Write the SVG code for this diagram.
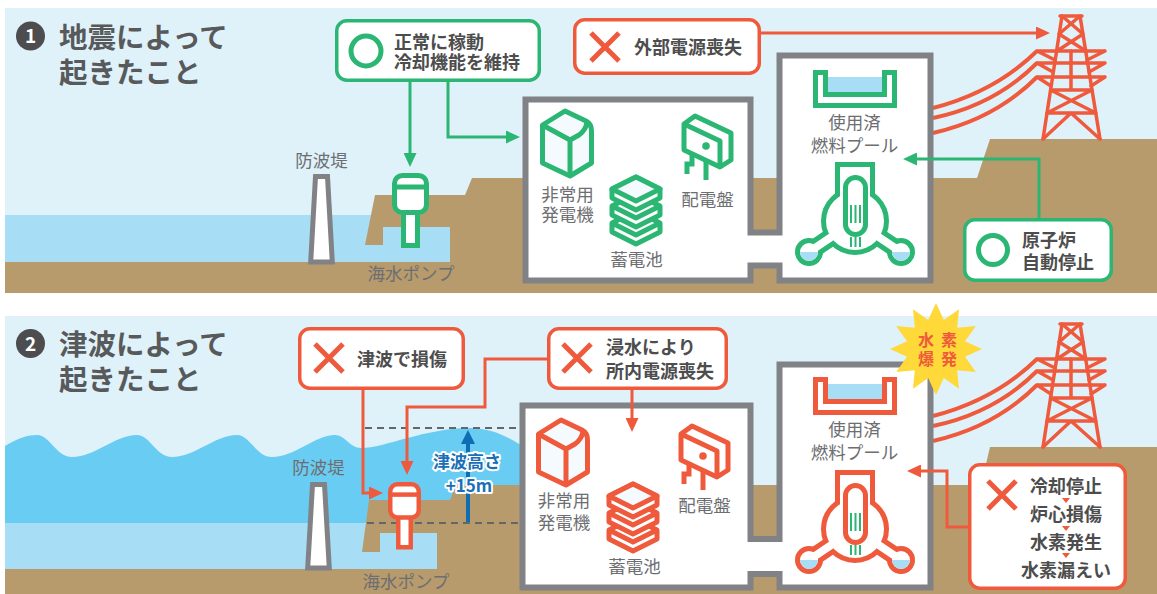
<svg xmlns="http://www.w3.org/2000/svg" width="1157" height="594" viewBox="0 0 1157 594">
<style>
  .sky{fill:#dff2fa}
  .sea{fill:#a8ddf6}
  .tsu{fill:#69ccf3}
  .gnd{fill:#b89b6c}
  .wall{fill:#fff;stroke:#808285;stroke-width:6;stroke-linejoin:miter}
  .dike{fill:#fff;stroke:#808285;stroke-width:5;stroke-linejoin:miter}
  .ttl{font-family:"Noto Sans CJK JP",sans-serif;font-weight:700;font-size:28.5px;fill:#58595b}
  .num{font-family:"Noto Sans CJK JP",sans-serif;font-weight:700;font-size:19px;fill:#fff;text-anchor:middle}
  .lbl{font-family:"Noto Sans CJK JP",sans-serif;font-size:17.5px;fill:#6d6e71;text-anchor:middle}
  .btx{font-family:"Noto Sans CJK JP",sans-serif;font-weight:700;font-size:18px;fill:#4d4d4d}
  .mid{text-anchor:middle}
  .box-g{fill:#fff;stroke:#2cb673;stroke-width:3.5}
  .box-o{fill:#fff;stroke:#ef5a3c;stroke-width:3.5}
  .cg{fill:none;stroke:#2cb673;stroke-width:3}
  .co{fill:none;stroke:#ef5a3c;stroke-width:3}
  .ok{fill:none;stroke:#2cb673;stroke-width:5}
  .ng{fill:none;stroke:#ef5a3c;stroke-width:5}
  .dash{fill:none;stroke:#666;stroke-width:1.8;stroke-dasharray:7 5}
  .cable{fill:none;stroke:#ef5a3c;stroke-width:4}
  .g{color:#2cb673}
  .o{color:#ef5a3c}
</style>
<defs>
  <marker id="mg" viewBox="0 0 14 13" refX="7" refY="6.5" markerWidth="14" markerHeight="13" markerUnits="userSpaceOnUse" orient="auto"><path d="M0,0 L14,6.5 L0,13 Z" fill="#2cb673"/></marker>
  <marker id="mo" viewBox="0 0 14 13" refX="7" refY="6.5" markerWidth="14" markerHeight="13" markerUnits="userSpaceOnUse" orient="auto"><path d="M0,0 L14,6.5 L0,13 Z" fill="#ef5a3c"/></marker>
  <marker id="mb" viewBox="0 0 14 14" refX="7" refY="7" markerWidth="14" markerHeight="14" markerUnits="userSpaceOnUse" orient="auto"><path d="M0,0 L14,7 L0,14 Z" fill="#0e6db3"/></marker>

  <!-- emergency generator -->
  <g id="gen" fill="none" stroke="currentColor" stroke-width="5" stroke-linejoin="round">
    <path d="M542.5,125 L565,111 L586,121 Q591.5,124 591.5,131 V163 L570,176 L542.5,163 Z" fill="#f4fafd"/>
    <path d="M542.5,125 L570,140 V176 M570,140 L579,135 Q586,130 587,122"/>
  </g>

  <!-- battery stack -->
  <g id="bat" stroke="currentColor" stroke-width="5" stroke-linejoin="round">
    <path d="M612,223 L636,211 L660,223 V232 L636,244 L612,232 Z" fill="#fff"/>
    <path d="M612,223 L636,235 L660,223" fill="none"/>
    <path d="M612,206 L636,194 L660,206 V215 L636,227 L612,215 Z" fill="#fff"/>
    <path d="M612,206 L636,218 L660,206" fill="none"/>
    <path d="M612,189 L636,177 L660,189 V198 L636,210 L612,198 Z" fill="#fff"/>
    <path d="M612,189 L636,177 L660,189 L636,201 Z" fill="#f4fafd"/>
  </g>

  <!-- switchboard -->
  <g id="swb" fill="none" stroke="currentColor" stroke-width="5" stroke-linejoin="round">
    <path d="M684,124 L695,116 L731,133 V160 L720,167 L684,150 Z" fill="#fff"/>
    <path d="M684,124 L720,141 V167"/>
    <circle cx="706" cy="146" r="3.8" fill="currentColor" stroke="none"/>
    <path d="M692,155 V164 H687 V174 M706,161 V180" stroke-linejoin="miter"/>
  </g>

  <!-- seawater pump -->
  <g id="pump" fill="#fff" stroke="currentColor" stroke-width="5">
    <rect x="403.5" y="210" width="14" height="35.5"/>
    <rect x="394.5" y="175.5" width="32" height="37" rx="8"/>
    <path d="M394.5,187 H426.5" fill="none"/>
  </g>

  <!-- spent fuel pool -->
  <g id="pool">
    <rect x="828" y="77" width="54" height="15" fill="#a8ddf6"/>
    <path d="M815.5,72.5 H825.5 V94.5 H884.5 V72.5 H894.5 V105.5 H815.5 Z" fill="none" stroke="currentColor" stroke-width="5"/>
  </g>

  <!-- reactor vessel -->
  <g id="rx">
    <g fill="currentColor" stroke="currentColor" stroke-width="10">
      <rect x="840" y="167" width="30" height="35"/>
      <circle cx="855" cy="221" r="29"/>
      <circle cx="809" cy="252" r="9"/>
      <circle cx="901" cy="252" r="9"/>
    </g>
    <path d="M809,252 L855,221 L901,252" fill="none" stroke="currentColor" stroke-width="18"/>
    <g fill="#fff">
      <rect x="840" y="167" width="30" height="35"/>
      <circle cx="855" cy="221" r="29"/>
      <circle cx="809" cy="252" r="9"/>
      <circle cx="901" cy="252" r="9"/>
    </g>
    <path d="M809,252 L855,221 L901,252" fill="none" stroke="#fff" stroke-width="8"/>
    <path d="M800,252 A9,9 0 0 0 818,252 Z M892,252 A9,9 0 0 0 910,252 Z" fill="#a8ddf6"/>
    <rect x="845.5" y="177.5" width="20" height="57" rx="10" fill="#fff" stroke="currentColor" stroke-width="5"/>
    <path d="M851,205 V223 M855.5,205 V223 M860,205 V223 M851,237 V247 M855.5,237 V247 M860,237 V247" stroke="#2cb673" stroke-width="2"/>
  </g>

  <!-- transmission tower -->
  <g id="tw" fill="none" stroke="#ef5a3c" stroke-width="3.5" stroke-linejoin="round" stroke-linecap="round">
    <path d="M1060,16 H1082 M1062,16 L1043,139 M1080,16 L1100,139"/>
    <path d="M1062,16 L1083,34 M1080,16 L1059,34 M1059,34 L1086,51 M1083,34 L1057,51"/>
    <path d="M1037,51 H1105 M1037,51 L1055,60 M1105,51 L1087,60"/>
    <path d="M1037,63 H1105 M1037,63 L1053,72 M1105,63 L1089,72"/>
    <path d="M1037,77 H1105 M1037,77 L1051,86 M1105,77 L1091,86"/>
    <path d="M1071,51 V90 M1050.6,90 H1092 M1050.6,90 L1095.8,113 M1092,90 L1047,113 M1047,113 H1095.8 M1071,113 L1043,139 M1071,113 L1100,139"/>
  </g>

  <!-- overhead lines -->
  <g id="cables">
    <path class="cable" d="M933,108 Q995,92 1037,51"/>
    <path class="cable" d="M933,118 Q995,105 1037,63"/>
    <path class="cable" d="M933,133 Q995,119 1037,77"/>
  </g>
</defs>

<!-- ===== backgrounds ===== -->
<g id="scene1">
  <rect class="sky" x="5" y="8" width="1152" height="285"/>
  <rect class="sea" x="5" y="215" width="400" height="47"/>
  <rect class="gnd" x="5" y="262" width="1152" height="31"/>
  <path class="gnd" d="M365,245 L375,195 L465,195 L472,178 L977,178 L990,139 L1157,139 L1157,262 L383,262 L383,245 Z"/>
  <rect class="sea" x="383" y="227" width="67" height="35"/>
</g>
<g id="scene2">
  <rect class="sky" x="5" y="316" width="1152" height="278"/>
  <path class="tsu" d="M5,523 V446 C18,438 28,435 37,435 C50,435 56,457 72,457 C95,457 115,435 137,435 C150,435 156,457 172,457 C195,457 215,435 237,435 C250,435 256,457 272,457 C295,457 315,435 335,435 C345,435 350,448 361,448 C385,448 425,428 470,428 C495,428 512,440 526,448 V523 Z"/>
  <rect class="sea" x="5" y="523" width="400" height="46"/>
  <rect class="gnd" x="5" y="569" width="1152" height="25"/>
  <path class="gnd" d="M362,552 L369,500 L450,500 L456,485 L981,485 L990,447 L1157,447 L1157,569 L380,569 L380,552 Z"/>
  <rect class="sea" x="380" y="533" width="57" height="36"/>
</g>

<!-- ===== titles ===== -->
<g id="title1">
  <circle cx="30.5" cy="36" r="14.5" fill="#4d4d4f"/>
  <text class="num" x="30.5" y="43">1</text>
  <text class="ttl" x="59" y="48">地震によって</text>
  <text class="ttl" x="59" y="83">起きたこと</text>
</g>
<g id="title2">
  <circle cx="30.5" cy="343.5" r="14.5" fill="#4d4d4f"/>
  <text class="num" x="30.5" y="350.5">2</text>
  <text class="ttl" x="59" y="355">津波によって</text>
  <text class="ttl" x="59" y="390">起きたこと</text>
</g>

<!-- ===== breakwaters ===== -->
<g id="breakwater1">
  <path class="dike" d="M315.5,176.5 H327.5 L332.3,262 H310.7 Z"/>
  <text class="lbl" x="321.5" y="166.5">防波堤</text>
</g>
<g id="breakwater2">
  <path class="dike" d="M312.5,484.5 H324.5 L329.3,568 H307.7 Z"/>
  <text class="lbl" x="318.5" y="473.5">防波堤</text>
</g>

<!-- ===== overhead lines and towers ===== -->
<g id="cables1"><use href="#cables"/></g>
<g id="tower1"><use href="#tw"/></g>
<g id="cables2"><use href="#cables" transform="translate(0,308)"/></g>
<g id="tower2"><use href="#tw" transform="translate(0,308)"/></g>

<!-- ===== buildings ===== -->
<g id="building1">
  <path class="wall" d="M525.5,99.5 H750.5 V232.5 H779.5 V55.5 H930.5 V280.5 H779.5 V265.5 H750.5 V280.5 H525.5 Z"/>
</g>
<g id="building2">
  <path class="wall" d="M522.5,405.5 H750.5 V539 H779.5 V364.5 H930.5 V587.5 H779.5 V574 H750.5 V587.5 H522.5 Z"/>
</g>

<!-- ===== equipment, panel 1 ===== -->
<g id="generator1" class="g">
  <use href="#gen"/>
  <text class="lbl" x="567.5" y="200.5">非常用</text>
  <text class="lbl" x="567.5" y="220.5">発電機</text>
</g>
<g id="battery1" class="g">
  <use href="#bat"/>
  <text class="lbl" x="636.5" y="265.5">蓄電池</text>
</g>
<g id="switchboard1" class="g">
  <use href="#swb"/>
  <text class="lbl" x="707.5" y="205.5">配電盤</text>
</g>
<g id="pool1" class="g">
  <use href="#pool"/>
  <text class="lbl" x="854.5" y="128.5">使用済</text>
  <text class="lbl" x="854.5" y="151.5">燃料プール</text>
</g>
<g id="reactor1" class="g"><use href="#rx"/></g>
<g id="pump1" class="g">
  <use href="#pump"/>
  <text class="lbl" x="411" y="280">海水ポンプ</text>
</g>

<!-- ===== equipment, panel 2 ===== -->
<g id="generator2" class="o">
  <use href="#gen" transform="translate(-4,309)"/>
  <text class="lbl" x="564" y="506.5">非常用</text>
  <text class="lbl" x="564" y="528.5">発電機</text>
</g>
<g id="battery2" class="o">
  <use href="#bat" transform="translate(-3,307)"/>
  <text class="lbl" x="634.5" y="573">蓄電池</text>
</g>
<g id="switchboard2" class="o">
  <use href="#swb" transform="translate(-3,310)"/>
  <text class="lbl" x="704.5" y="511.5">配電盤</text>
</g>
<g id="pool2" class="o">
  <use href="#pool" transform="translate(0,307)"/>
  <text class="lbl" x="854.5" y="436">使用済</text>
  <text class="lbl" x="854.5" y="458.5">燃料プール</text>
</g>
<g id="reactor2" class="o"><use href="#rx" transform="translate(0,308)"/></g>

<!-- tsunami height marker -->
<g id="wave-height">
  <path class="dash" d="M365,428 H520 M367,523 H520"/>
  <path d="M468,522 V437" fill="none" stroke="#0e6db3" stroke-width="4" marker-end="url(#mb)"/>
  <g font-family="'Noto Sans CJK JP',sans-serif" font-weight="700" font-size="17" fill="#1a70b6" stroke="#fff" stroke-width="4" stroke-linejoin="round" style="paint-order:stroke" text-anchor="middle">
    <text x="467" y="468">津波高さ</text>
    <text x="469" y="492">+15m</text>
  </g>
</g>

<g id="pump2" class="o">
  <use href="#pump" transform="translate(404.5,482) scale(0.89,0.9) translate(-410.5,-173)"/>
  <text class="lbl" x="406" y="588">海水ポンプ</text>
</g>

<!-- ===== connectors ===== -->
<g id="connectors">
  <path class="cg" d="M410,82 V160" marker-end="url(#mg)"/>
  <path class="cg" d="M448,82 V137 H513" marker-end="url(#mg)"/>
  <path class="co" d="M761,33 H1043" marker-end="url(#mo)"/>
  <path class="cg" d="M1039,218 V159 H910" marker-end="url(#mg)"/>
  <path class="co" d="M363,390 V493 H376" marker-end="url(#mo)"/>
  <path class="co" d="M547,359 H485 V407 H407 V468" marker-end="url(#mo)"/>
  <path class="co" d="M632,390 V425" marker-end="url(#mo)"/>
  <path class="co" d="M968,527 H947 V471 H914" marker-end="url(#mo)"/>
</g>

<!-- ===== callout boxes ===== -->
<g id="box-normal">
  <rect class="box-g" x="336.75" y="20.75" width="202.5" height="59.5" rx="10"/>
  <circle class="ok" cx="366" cy="51" r="15"/>
  <text class="btx" x="394" y="48.5">正常に稼動</text>
  <text class="btx" x="394" y="69">冷却機能を維持</text>
</g>
<g id="box-offsite">
  <rect class="box-o" x="574.75" y="19.75" width="184.5" height="53.5" rx="10"/>
  <path class="ng" d="M591,33 L619,61 M619,33 L591,61"/>
  <text class="btx" x="634" y="53.5">外部電源喪失</text>
</g>
<g id="box-scram">
  <rect class="box-g" x="964.75" y="219.75" width="146.5" height="60.5" rx="10"/>
  <circle class="ok" cx="993" cy="250" r="14.5"/>
  <text class="btx" x="1022" y="246.5">原子炉</text>
  <text class="btx" x="1022" y="269">自動停止</text>
</g>
<g id="box-pumpdamage">
  <rect class="box-o" x="299.75" y="328.75" width="163.5" height="59.5" rx="10"/>
  <path class="ng" d="M315,344 L343,372 M343,344 L315,372"/>
  <text class="btx" x="357" y="365.5">津波で損傷</text>
</g>
<g id="box-flood">
  <rect class="box-o" x="548.75" y="328.75" width="177.5" height="59.5" rx="10"/>
  <path class="ng" d="M563,344 L591,372 M591,344 L563,372"/>
  <text class="btx" x="606" y="354">浸水により</text>
  <text class="btx" x="606" y="377.5">所内電源喪失</text>
</g>
<g id="box-core">
  <rect class="box-o" x="969.75" y="464.75" width="155.5" height="123.5" rx="10"/>
  <path class="ng" d="M988,481 L1016,509 M1016,481 L988,509"/>
  <g class="btx mid">
    <text x="1066" y="493">冷却停止</text>
    <text x="1066" y="521">炉心損傷</text>
    <text x="1066" y="549">水素発生</text>
    <text x="1066" y="577">水素漏えい</text>
  </g>
  <path d="M1062,498 H1070 L1066,503 Z M1062,526 H1070 L1066,531 Z M1062,553 H1070 L1066,558 Z" fill="#ef5a3c"/>
</g>

<!-- hydrogen explosion burst -->
<g id="explosion">
  <polygon fill="#ffd83a" points="936,303 943.8,320 959,309.2 957.2,327.8 975.8,326 965,341.2 982,349 965,356.8 975.8,372 957.2,370.2 959,388.8 943.8,378 936,395 928.2,378 913,388.8 914.8,370.2 896.2,372 907,356.8 890,349 907,341.2 896.2,326 914.8,327.8 913,309.2 928.2,320"/>
  <g font-family="'Noto Sans CJK JP',sans-serif" font-weight="700" font-size="16" fill="#ef5a3c" letter-spacing="7" text-anchor="middle">
    <text x="941" y="346">水素</text>
    <text x="941" y="365">爆発</text>
  </g>
</g>
</svg>
